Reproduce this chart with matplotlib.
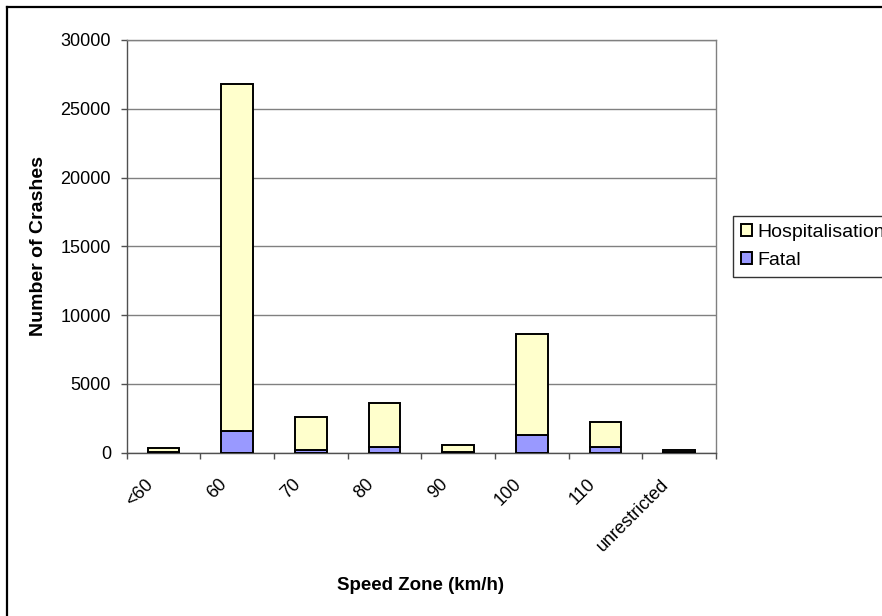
import matplotlib
matplotlib.use('Agg')
import matplotlib.pyplot as plt
from matplotlib.lines import Line2D
from matplotlib.transforms import ScaledTranslation

plt.rcParams['font.family'] = ['Liberation Sans', 'DejaVu Sans']

# data
zones = ['<60', '60', '70', '80', '90', '100', '110', 'unrestricted']
fatal = [15, 1580, 200, 390, 80, 1290, 390, 70]
hospitalisation = [310, 25220, 2400, 3210, 460, 7370, 1820, 150]
yticks = [0, 5000, 10000, 15000, 20000, 25000, 30000]

fig = plt.figure(figsize=(8.82, 6.16), dpi=100)
ax = fig.add_axes([0.1436, 0.2651, 0.668, 0.670])

x = list(range(len(zones)))
ax.bar(x, fatal, width=0.43, color='#9999FF', edgecolor='black', linewidth=1.4,
       label='Fatal', zorder=3)
ax.bar(x, hospitalisation, width=0.43, bottom=fatal, color='#FFFFCC',
       edgecolor='black', linewidth=1.4, label='Hospitalisation', zorder=3)

ax.set_xlim(-0.5, len(zones) - 0.5)
ax.set_ylim(0, 30000)
ax.set_yticks(yticks)
ax.yaxis.grid(True, color='#808080', linewidth=1.0, zorder=0)

for s in ax.spines.values():
    s.set_color('#808080')
    s.set_linewidth(1.0)
ax.spines['left'].set_color('#505050')
ax.spines['bottom'].set_color('#505050')

ax.tick_params(axis='y', direction='out', length=4.3, width=1, color='#505050',
               pad=7, labelsize=13)
# ticks between categories
ax.set_xticks([i - 0.5 for i in range(len(zones) + 1)], minor=True)
ax.tick_params(axis='x', which='minor', direction='out', length=4, width=1,
               color='#505050')
ax.set_xticks(x)
ax.set_xticklabels(zones, rotation=45, ha='right', va='center',
                   rotation_mode='anchor')
ax.tick_params(axis='x', which='major', length=0, pad=21, labelsize=13)
offset = ScaledTranslation(-0.13, 0, fig.dpi_scale_trans)
for lab in ax.get_xticklabels():
    lab.set_transform(lab.get_transform() + offset)

fig.text(0.477, 0.050, 'Speed Zone (km/h)', ha='center', va='center',
         fontsize=13.5, fontweight='bold')
fig.text(0.0437, 0.600, 'Number of Crashes', ha='center', va='center',
         rotation=90, fontsize=14, fontweight='bold')

handles, labels = ax.get_legend_handles_labels()
leg = fig.legend(handles[::-1], labels[::-1], loc='center left',
                 bbox_to_anchor=(732.7 / 882, 1 - 246.5 / 616),
                 fontsize=14, frameon=True, fancybox=False, shadow=False,
                 handlelength=0.55, handleheight=0.55, handletextpad=0.3,
                 borderpad=0.42, labelspacing=0.55, borderaxespad=0)
leg.get_frame().set_edgecolor('black')
leg.get_frame().set_linewidth(1.0)

# chart border (left and top visible)
bx = 7 / 882
by = 1 - 7.3 / 616
fig.add_artist(Line2D([bx, bx], [0, by], color='black', linewidth=1.6,
                      transform=fig.transFigure))
fig.add_artist(Line2D([bx, 1], [by, by], color='black', linewidth=1.6,
                      transform=fig.transFigure))

fig.savefig('out.png', dpi=100)
